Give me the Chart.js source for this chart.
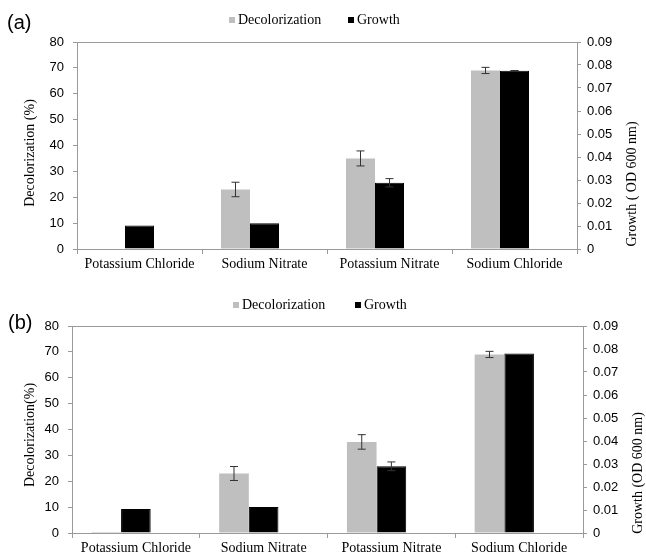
<!DOCTYPE html>
<html>
<head>
<meta charset="utf-8">
<script src="https://cdn.jsdelivr.net/npm/chart.js@4/dist/chart.umd.min.js"></script>
<style>
  html, body { margin: 0; padding: 0; background: #fff; }
  #wrap { position: relative; width: 646px; height: 554px; overflow: hidden; background: #fff; }
  .panel { position: absolute; left: 0; width: 646px; height: 277px; }
  #pa { top: 0; }
  #pb { top: 277px; }
</style>
</head>
<body>
<div id="wrap">
  <div class="panel" id="pa"><canvas id="chartA" width="646" height="277"></canvas></div>
  <div class="panel" id="pb"><canvas id="chartB" width="646" height="277"></canvas></div>
</div>
<script>
// Salt treatments on the x axis
const categories = ['Potassium Chloride', 'Sodium Nitrate', 'Potassium Nitrate', 'Sodium Chloride'];

// Panel (a)
const decolA = [0, 23, 35, 69];
const decolErrA = [0, 2.8, 2.9, 1.2];
const growthA = [0.0102, 0.0112, 0.0288, 0.0775];
const growthErrA = [0, 0, 0.0018, 0.0001];

// Panel (b)
const decolB = [0.4, 23, 35.2, 69];
const decolErrB = [0, 2.7, 2.8, 1.2];
const growthB = [0.0104, 0.0113, 0.029, 0.078];
const growthErrB = [0, 0, 0.0019, 0];

// Axis ticks
const decolTicks = [0, 10, 20, 30, 40, 50, 60, 70, 80];
const growthTicks = [0, 0.01, 0.02, 0.03, 0.04, 0.05, 0.06, 0.07, 0.08, 0.09];

const SERIF = '"Liberation Serif", "Times New Roman", serif';
const SANS = '"Liberation Sans", Arial, sans-serif';
const AXIS = '#9a9a9a';

// Error bars drawn from each dataset's "errors" array through its own y scale
const errorBars = {
  id: 'errorBars',
  afterDatasetsDraw(chart) {
    const ctx = chart.ctx;
    chart.data.datasets.forEach((ds, di) => {
      if (!ds.errors) return;
      const meta = chart.getDatasetMeta(di);
      const ys = chart.scales[ds.yAxisID];
      meta.data.forEach((bar, i) => {
        const e = ds.errors[i];
        if (!e) return;
        const v = ds.data[i];
        const yTop = ys.getPixelForValue(v + e);
        const yBot = ys.getPixelForValue(v - e);
        ctx.save();
        ctx.strokeStyle = ds.errorColor || '#333';
        ctx.lineWidth = 1;
        ctx.beginPath();
        ctx.moveTo(bar.x, yTop); ctx.lineTo(bar.x, yBot);
        ctx.moveTo(bar.x - 4, yTop); ctx.lineTo(bar.x + 4, yTop);
        ctx.moveTo(bar.x - 4, yBot); ctx.lineTo(bar.x + 4, yBot);
        ctx.stroke();
        ctx.restore();
      });
    });
  }
};

// Legend, panel letter and axis titles
const decorations = {
  id: 'decorations',
  afterDraw(chart, args, o) {
    const ctx = chart.ctx;
    ctx.save();
    // panel letter
    ctx.fillStyle = '#000';
    ctx.font = '20px ' + SANS;
    ctx.textBaseline = 'middle';
    ctx.textAlign = 'left';
    ctx.fillText(o.letter, o.letterX, o.letterY);
    // legend (named series only)
    ctx.font = '14px ' + SERIF;
    chart.data.datasets.filter(ds => ds.label).forEach((ds, i) => {
      const x = o.legendX[i];
      ctx.fillStyle = ds.backgroundColor;
      ctx.fillRect(x, o.legendY - 3, 6, 6);
      ctx.fillStyle = '#000';
      ctx.fillText(ds.label, x + 9, o.legendY);
    });
    // axis titles (both read bottom to top)
    ctx.font = '14px ' + SERIF;
    ctx.textAlign = 'center';
    [[o.leftTitle, o.leftTitleX, o.leftTitleY], [o.rightTitle, o.rightTitleX, o.rightTitleY]].forEach(([t, x, y]) => {
      ctx.save();
      ctx.translate(x, y);
      ctx.rotate(-Math.PI / 2);
      ctx.fillText(t, 0, 0);
      ctx.restore();
    });
    ctx.restore();
  }
};

function makeChart(id, cfg) {
  const fixed = (w) => (scale) => { scale.width = w; };
  const slot = { categoryPercentage: 0.696, barPercentage: 1.0 };
  return new Chart(document.getElementById(id), {
    type: 'bar',
    data: {
      labels: categories,
      datasets: [
        Object.assign({
          label: 'Decolorization', data: cfg.decol, errors: cfg.decolErr,
          yAxisID: 'y', backgroundColor: '#bfbfbf', borderWidth: 0
        }, slot),
        Object.assign({
          label: 'Growth', data: cfg.growth, errors: cfg.growthErr,
          yAxisID: 'y1', backgroundColor: '#000000', borderColor: '#000000', borderWidth: 1
        }, slot),
        // empty third slot in each group, as in the original workbook series layout
        Object.assign({
          label: '', data: [null, null, null, null],
          yAxisID: 'y', backgroundColor: 'rgba(0,0,0,0)', borderWidth: 0
        }, slot)
      ]
    },
    options: {
      responsive: false,
      animation: false,
      layout: { padding: { top: cfg.top, left: 0, right: 0, bottom: 0 } },
      plugins: {
        legend: { display: false },
        tooltip: { enabled: false },
        decorations: cfg.deco
      },
      scales: {
        x: {
          offset: true,
          afterFit: (s) => { s.height = cfg.xHeight; },
          grid: { offset: true, drawOnChartArea: false, drawTicks: true, tickLength: 5, tickColor: AXIS },
          border: { color: AXIS, width: 1 },
          ticks: { color: '#000', font: { family: SERIF, size: 14 }, padding: 2, maxRotation: 0, autoSkip: false }
        },
        y: {
          position: 'left', min: 0, max: 80,
          afterFit: fixed(cfg.leftW),
          afterBuildTicks: (s) => { s.ticks = decolTicks.map(v => ({ value: v })); },
          grid: {
            drawOnChartArea: true, drawTicks: true, tickLength: 4, tickColor: AXIS,
            color: (c) => (c.tick && c.tick.value === 80 ? AXIS : 'rgba(0,0,0,0)')
          },
          border: { color: AXIS, width: 1 },
          ticks: { color: '#000', font: { family: SANS, size: 13 }, padding: 9 }
        },
        y1: {
          position: 'right', min: 0, max: 0.09,
          afterFit: fixed(cfg.rightW),
          afterBuildTicks: (s) => { s.ticks = growthTicks.map(v => ({ value: v })); },
          grid: { drawOnChartArea: false, drawTicks: true, tickLength: 4, tickColor: AXIS },
          border: { color: AXIS, width: 1 },
          ticks: {
            color: '#000', font: { family: SANS, size: 13 }, padding: 6,
            callback: (v) => (v === 0 ? '0' : Number(v).toFixed(2))
          }
        }
      }
    },
    plugins: [errorBars, decorations]
  });
}

makeChart('chartA', {
  decol: decolA, decolErr: decolErrA, growth: growthA, growthErr: growthErrA,
  top: 42, xHeight: 28, leftW: 77, rightW: 69,
  deco: {
    letter: '(a)', letterX: 7, letterY: 23,
    legendX: [229, 348], legendY: 20,
    leftTitle: 'Decolorization (%)', leftTitleX: 30, leftTitleY: 153,
    rightTitle: 'Growth ( OD 600 nm)', rightTitleX: 632, rightTitleY: 184
  }
});

makeChart('chartB', {
  decol: decolB, decolErr: decolErrB, growth: growthB, growthErr: growthErrB,
  top: 49, xHeight: 21, leftW: 72, rightW: 63,
  deco: {
    letter: '(b)', letterX: 8, letterY: 46,
    legendX: [233, 355], legendY: 28,
    leftTitle: 'Decolorization(%)', leftTitleX: 30, leftTitleY: 158,
    rightTitle: 'Growth (OD 600 nm)', rightTitleX: 638, rightTitleY: 196
  }
});
</script>
</body>
</html>
